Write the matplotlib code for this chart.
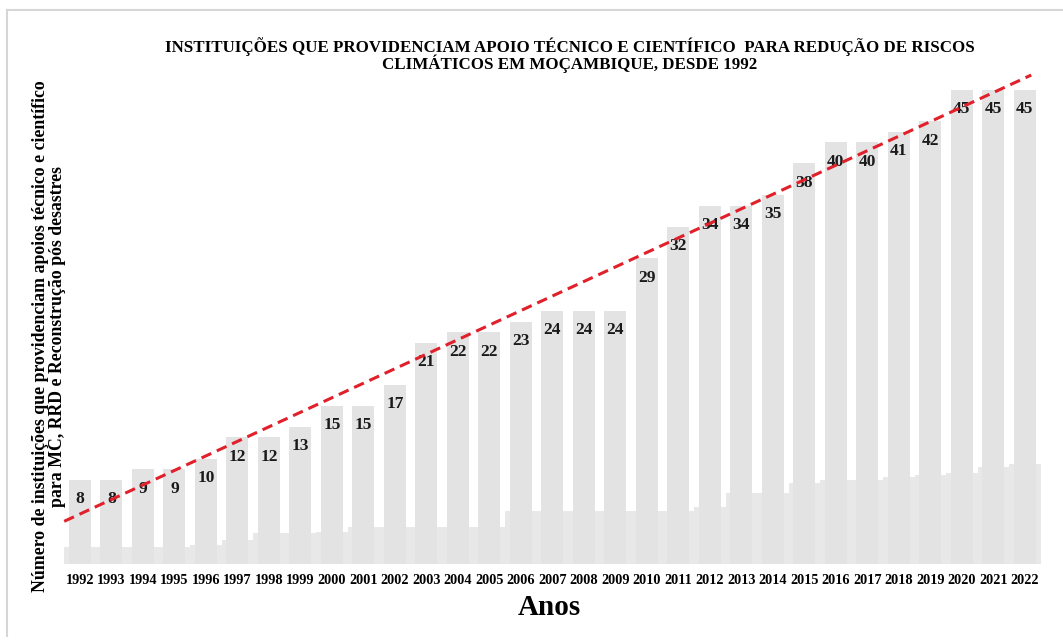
import numpy as np
import matplotlib.pyplot as plt
from matplotlib.lines import Line2D

# number of institutions per year
anos = list(range(1992, 2023))
valores = [8, 8, 9, 9, 10, 12, 12, 13, 15, 15, 17, 21, 22, 22, 23, 24, 24, 24,
           29, 32, 34, 34, 35, 38, 40, 40, 41, 42, 45, 45, 45]
# faint base layer behind the bars
base = [1.6, 1.6, 1.6, 1.6, 1.8, 2.3, 2.9, 2.9, 3.0, 3.5, 3.5, 3.5, 3.5, 3.5,
        5.0, 5.0, 5.0, 5.0, 5.0, 5.0, 5.4, 6.7, 6.7, 7.7, 8.0, 8.0, 8.3, 8.4,
        8.6, 9.2, 9.5]

titulo = ("INSTITUIÇÕES QUE PROVIDENCIAM APOIO TÉCNICO E CIENTÍFICO  PARA REDUÇÃO DE RISCOS\n"
          "CLIMÁTICOS EM MOÇAMBIQUE, DESDE 1992")
ylabel = ("Número de instituições que providenciam apoios técnico e científico\n"
          "para MC, RRD e Reconstrução pós desastres")

plt.rcParams['font.family'] = ['Liberation Serif', 'DejaVu Serif']
plt.rcParams['font.weight'] = 'bold'

fig = plt.figure(figsize=(10.63, 6.41), dpi=100)
ax = fig.add_axes([0.0604, 0.1201, 0.9186, 0.8175])

x = np.arange(len(anos))
ax.bar(x, base, width=1.0, color='#e8e8e8', zorder=1)
ax.bar(x, valores, width=0.7, color='#e3e3e3', zorder=2)

for xi, v in zip(x, valores):
    ax.annotate(str(v), (xi, v), xytext=(0, -14), textcoords='offset points',
                ha='center', va='center', fontsize=12.5, fontweight='bold',
                color='#1a1a1a', zorder=4)

# linear trend
coef = np.polyfit(x, valores, 1)
xt = np.array([-0.5, 30.2])
ax.plot(xt, np.polyval(coef, xt), '--', color='#e0202a', lw=2.2,
        dashes=(3.5, 2), zorder=5, clip_on=False)

ax.set_xlim(-0.5, 30.5)
ax.set_ylim(0, 49.7)
ax.set_xticks(x)
ax.set_xticklabels([str(a) for a in anos], fontsize=10.3, fontweight='bold')
ax.tick_params(axis='x', length=0, pad=7)
ax.set_yticks([])
for s in ax.spines.values():
    s.set_visible(False)

fig.text(0.536, 0.914, titulo, ha='center', va='center', fontsize=12.2,
         fontweight='bold', linespacing=0.9)
fig.text(0.046, 0.475, ylabel, ha='center', va='center', rotation=90,
         fontsize=12.8, fontweight='bold', multialignment='center',
         linespacing=1.05)
fig.text(0.517, 0.053, 'Anos', ha='center', va='center', fontsize=21,
         fontweight='bold')

# light frame on top and left
fig.add_artist(Line2D([7 / 1063, 1.0], [1 - 10 / 641, 1 - 10 / 641],
                      transform=fig.transFigure, color='#d6d6d6', lw=1.5))
fig.add_artist(Line2D([7 / 1063, 7 / 1063], [1 - 10 / 641, 1 - 636 / 641],
                      transform=fig.transFigure, color='#d6d6d6', lw=1.5))

fig.savefig('out.png', dpi=100)
